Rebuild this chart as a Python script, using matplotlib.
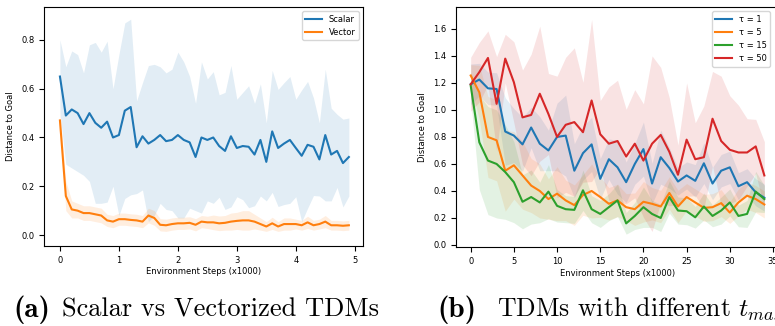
import numpy as np
from matplotlib import pyplot as plt

plt.rcParams['font.size'] = 6
plt.rcParams['mathtext.fontset'] = 'cm'

# (a) scalar vs vectorized, x in thousands of steps
steps_a = [i / 10 for i in range(50)]
scalar_mean = [0.65, 0.49, 0.515, 0.50, 0.455, 0.50, 0.46, 0.44, 0.465, 0.40,
               0.41, 0.51, 0.525, 0.36, 0.405, 0.375, 0.39, 0.41, 0.385, 0.39,
               0.41, 0.39, 0.38, 0.32, 0.40, 0.39, 0.40, 0.365, 0.345, 0.405,
               0.357, 0.365, 0.362, 0.33, 0.39, 0.30, 0.425, 0.357, 0.375, 0.39,
               0.357, 0.325, 0.37, 0.362, 0.31, 0.41, 0.33, 0.345, 0.295, 0.32]
scalar_std = [0.15, 0.2, 0.24, 0.24, 0.21, 0.28, 0.33, 0.31, 0.33, 0.2,
              0.33, 0.36, 0.36, 0.19, 0.22, 0.32, 0.31, 0.28, 0.28, 0.29,
              0.34, 0.32, 0.27, 0.22, 0.31, 0.25, 0.27, 0.21, 0.24, 0.29,
              0.2, 0.22, 0.25, 0.21, 0.23, 0.16, 0.25, 0.24, 0.25, 0.26,
              0.2, 0.27, 0.26, 0.2, 0.15, 0.27, 0.19, 0.15, 0.18, 0.16]
vector_mean = [0.47, 0.16, 0.105, 0.10, 0.09, 0.09, 0.085, 0.08, 0.06, 0.055,
               0.065, 0.065, 0.062, 0.06, 0.055, 0.08, 0.07, 0.042, 0.04, 0.045,
               0.048, 0.048, 0.05, 0.042, 0.055, 0.052, 0.052, 0.048, 0.05, 0.055,
               0.058, 0.06, 0.06, 0.055, 0.045, 0.035, 0.048, 0.035, 0.045, 0.045,
               0.045, 0.04, 0.052, 0.04, 0.045, 0.055, 0.04, 0.04, 0.038, 0.04]
vector_std = [0.03, 0.06, 0.035, 0.03, 0.03, 0.03, 0.03, 0.03, 0.025, 0.025,
              0.025, 0.025, 0.025, 0.025, 0.025, 0.03, 0.03, 0.025, 0.025, 0.025,
              0.025, 0.025, 0.025, 0.025, 0.025, 0.025, 0.03, 0.03, 0.03, 0.035,
              0.035, 0.04, 0.04, 0.03, 0.025, 0.02, 0.025, 0.02, 0.025, 0.025,
              0.02, 0.02, 0.025, 0.02, 0.02, 0.025, 0.02, 0.02, 0.02, 0.02]

# (b) different tau
steps_b = list(range(35))
tau_labels = ["τ = 1", "τ = 5", "τ = 15", "τ = 50"]
tau1_mean = [1.19, 1.225, 1.16, 1.155, 0.84, 0.81, 0.745, 0.87, 0.75, 0.70,
             0.80, 0.81, 0.55, 0.68, 0.745, 0.49, 0.635, 0.575, 0.465, 0.60,
             0.71, 0.455, 0.65, 0.57, 0.47, 0.515, 0.475, 0.605, 0.455, 0.55,
             0.575, 0.435, 0.465, 0.39, 0.35]
tau5_mean = [1.255, 1.13, 0.80, 0.775, 0.55, 0.59, 0.515, 0.44, 0.40, 0.34,
             0.38, 0.33, 0.295, 0.37, 0.40, 0.355, 0.305, 0.33, 0.28, 0.265,
             0.32, 0.305, 0.285, 0.385, 0.285, 0.355, 0.315, 0.275, 0.28, 0.31,
             0.24, 0.315, 0.365, 0.34, 0.30]
tau15_mean = [1.18, 0.76, 0.625, 0.60, 0.54, 0.465, 0.32, 0.355, 0.315, 0.395,
              0.29, 0.265, 0.26, 0.405, 0.265, 0.23, 0.28, 0.33, 0.16, 0.215,
              0.28, 0.23, 0.20, 0.355, 0.255, 0.25, 0.205, 0.285, 0.215, 0.255,
              0.315, 0.215, 0.23, 0.395, 0.34]
tau50_mean = [1.19, 1.28, 1.385, 1.045, 1.38, 1.205, 0.945, 0.963, 1.12, 0.97,
              0.80, 0.89, 0.91, 0.835, 1.07, 0.82, 0.75, 0.77, 0.655, 0.75,
              0.625, 0.75, 0.815, 0.69, 0.52, 0.78, 0.635, 0.65, 0.935, 0.77,
              0.705, 0.685, 0.685, 0.73, 0.515]
tau1_std = [0.15, 0.12, 0.12, 0.12, 0.25, 0.2, 0.2, 0.15, 0.2, 0.15,
            0.25, 0.3, 0.2, 0.2, 0.2, 0.15, 0.15, 0.2, 0.15, 0.15,
            0.2, 0.15, 0.2, 0.15, 0.1, 0.1, 0.12, 0.15, 0.12, 0.12,
            0.12, 0.1, 0.1, 0.1, 0.1]
tau5_std = [0.08, 0.2, 0.3, 0.3, 0.3, 0.25, 0.25, 0.2, 0.2, 0.15,
            0.2, 0.15, 0.15, 0.15, 0.2, 0.15, 0.12, 0.12, 0.1, 0.12,
            0.15, 0.12, 0.12, 0.12, 0.12, 0.1, 0.1, 0.1, 0.1, 0.1,
            0.08, 0.1, 0.1, 0.1, 0.1]
tau15_std = [0.1, 0.35, 0.4, 0.4, 0.35, 0.3, 0.2, 0.2, 0.15, 0.2,
             0.12, 0.1, 0.1, 0.15, 0.1, 0.1, 0.1, 0.12, 0.08, 0.1,
             0.15, 0.1, 0.1, 0.12, 0.1, 0.1, 0.08, 0.1, 0.08, 0.1,
             0.1, 0.08, 0.1, 0.15, 0.1]
tau50_std = [0.2, 0.22, 0.2, 0.35, 0.18, 0.3, 0.35, 0.45, 0.5, 0.3,
             0.45, 0.5, 0.55, 0.37, 0.6, 0.25, 0.42, 0.45, 0.35, 0.4,
             0.42, 0.65, 0.5, 0.4, 0.22, 0.42, 0.27, 0.38, 0.35, 0.48,
             0.4, 0.35, 0.25, 0.2, 0.25]

colors = ['#1f77b4', '#ff7f0e', '#2ca02c', '#d62728']


def band(ax, x, mean, std, color, label):
    mean = np.array(mean)
    std = np.array(std)
    ax.fill_between(x, mean - std, mean + std, color=color, alpha=0.13, lw=0)
    ax.plot(x, mean, color=color, lw=1.5, label=label)


fig = plt.figure(figsize=(7.75, 3.26), dpi=100)

ax1 = fig.add_axes([0.0568, 0.2454, 0.4116, 0.733])
band(ax1, steps_a, scalar_mean, scalar_std, colors[0], "Scalar")
band(ax1, steps_a, vector_mean, vector_std, colors[1], "Vector")
ax1.set_xlim(-0.27, 5.14)
ax1.set_ylim(-0.045, 0.935)
ax1.set_xticks([0, 1, 2, 3, 4, 5])
ax1.set_yticks([0.0, 0.2, 0.4, 0.6, 0.8])
ax1.set_xlabel("Environment Steps (x1000)", labelpad=2)
ax1.set_ylabel("Distance to Goal", labelpad=4)
ax1.legend(loc='upper right', fontsize=6)

ax2 = fig.add_axes([0.5884, 0.2423, 0.4168, 0.7353])
for mean, std, c, lab in zip([tau1_mean, tau5_mean, tau15_mean, tau50_mean],
                             [tau1_std, tau5_std, tau15_std, tau50_std],
                             colors, tau_labels):
    band(ax2, steps_b, mean, std, c, lab)
ax2.set_xlim(-1.7, 35.7)
ax2.set_ylim(-0.015, 1.76)
ax2.set_xticks(range(0, 36, 5))
ax2.set_yticks(np.arange(0, 1.61, 0.2))
ax2.set_xlabel("Environment Steps (x1000)", labelpad=2)
ax2.set_ylabel("Distance to Goal", labelpad=4)
ax2.legend(loc='upper right', fontsize=6, bbox_to_anchor=(0.985, 1.0))

# captions
cap_y = 0.028
fig.text(0.0168, cap_y, "(a)", family='cmb10', fontsize=21, va='baseline')
fig.text(0.08, cap_y, "Scalar vs Vectorized TDMs", family='cmr10', fontsize=19,
         va='baseline')
fig.text(0.5639, cap_y, "(b)", family='cmb10', fontsize=21, va='baseline')
fig.text(0.6413, cap_y, "TDMs with different $t_{max}$", family='cmr10',
         fontsize=18.5, va='baseline')

fig.savefig("out.png", dpi=100)
